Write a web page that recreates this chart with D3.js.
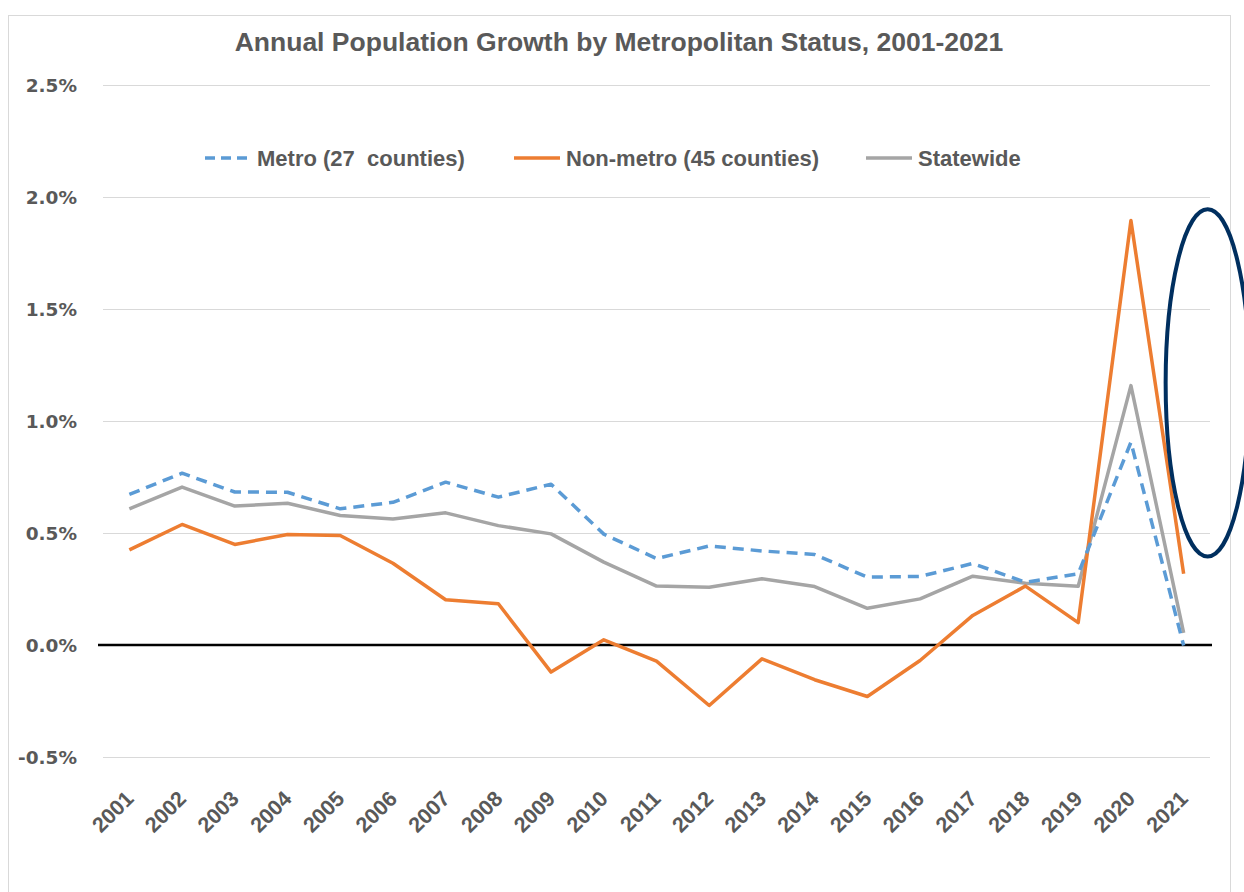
<!DOCTYPE html>
<html>
<head>
<meta charset="utf-8">
<script src="https://cdn.jsdelivr.net/npm/d3@7"></script>
<style>
  body { margin: 0; background: #fff; }
  svg { display: block; }
</style>
</head>
<body>
<svg id="chart"></svg>
<script>
// values, in percent
const years = ["2001","2002","2003","2004","2005","2006","2007","2008","2009","2010","2011",
               "2012","2013","2014","2015","2016","2017","2018","2019","2020","2021"];
const metro = [0.672, 0.767, 0.683, 0.682, 0.608, 0.637, 0.727, 0.660, 0.718, 0.495, 0.386,
               0.442, 0.420, 0.404, 0.303, 0.306, 0.364, 0.280, 0.318, 0.905, -0.002];
const nonMetro = [0.425, 0.538, 0.449, 0.493, 0.489, 0.365, 0.202, 0.184, -0.121, 0.023, -0.072,
                  -0.270, -0.062, -0.155, -0.230, -0.069, 0.132, 0.263, 0.100, 1.895, 0.318];
const statewide = [0.608, 0.705, 0.620, 0.633, 0.578, 0.563, 0.590, 0.533, 0.496, 0.370, 0.263,
                   0.258, 0.296, 0.261, 0.164, 0.206, 0.307, 0.276, 0.262, 1.158, 0.054];
const yTicks = [-0.5, 0, 0.5, 1.0, 1.5, 2.0, 2.5];
const seriesNames = ["Metro (27  counties)", "Non-metro (45 counties)", "Statewide"];

const width = 1244;
const height = 892;
const plot = { left: 103, right: 1210, top: 85, bottom: 757 };
const textColor = "#595959";

const svg = d3.select("#chart").attr("width", width).attr("height", height);

// chart frame
svg.append("rect")
    .attr("x", 8.5).attr("y", 15.5)
    .attr("width", 1222).attr("height", 900)
    .attr("fill", "#fff")
    .attr("stroke", "#d9d9d9");

const x = d3.scalePoint()
    .domain(years)
    .range([plot.left, plot.right])
    .padding(0.5);

const y = d3.scaleLinear()
    .domain([-0.5, 2.5])
    .range([plot.bottom, plot.top]);

// y axis + gridlines
svg.append("g")
    .attr("transform", `translate(${plot.left}, 0)`)
    .call(d3.axisLeft(y)
        .tickValues(yTicks)
        .tickSize(-(plot.right - plot.left))
        .tickPadding(26)
        .tickFormat(d => d3.format(".1f")(d).replace("\u2212", "-") + "%"))
    .call(g => g.select(".domain").remove())
    .call(g => g.selectAll(".tick line").attr("stroke", "#d9d9d9"))
    .call(g => g.selectAll(".tick text")
        .attr("fill", textColor)
        .attr("dy", "0.36em")
        .style("font-family", "'DejaVu Sans', Verdana, sans-serif")
        .style("font-weight", "bold")
        .style("font-size", "18.5px"));

// zero line
svg.append("line")
    .attr("x1", plot.left - 5).attr("x2", plot.right + 2)
    .attr("y1", y(0)).attr("y2", y(0))
    .attr("stroke", "#000")
    .attr("stroke-width", 2.5);

// x axis labels
svg.append("g")
    .attr("transform", `translate(0, 800)`)
    .call(d3.axisBottom(x).tickSize(0).tickPadding(0))
    .call(g => g.select(".domain").remove())
    .call(g => g.selectAll(".tick text")
        .attr("y", 0).attr("dy", 0)
        .attr("transform", "translate(5,0) rotate(-45)")
        .style("text-anchor", "end")
        .attr("fill", textColor)
        .style("font-family", "'Liberation Sans', Arial, sans-serif")
        .style("font-weight", "bold")
        .style("font-size", "21.5px"));

const line = d3.line()
    .x((d, i) => x(years[i]))
    .y(d => y(d));

const series = [
    { name: seriesNames[0], values: metro, color: "#5b9bd5", dash: "11,7" },
    { name: seriesNames[1], values: nonMetro, color: "#ed7d31", dash: null },
    { name: seriesNames[2], values: statewide, color: "#a5a5a5", dash: null }
];

// draw statewide first, then non-metro, metro on top
svg.append("g")
    .selectAll("path")
    .data([series[2], series[1], series[0]])
    .enter()
    .append("path")
    .attr("d", d => line(d.values))
    .attr("fill", "none")
    .attr("stroke", d => d.color)
    .attr("stroke-width", 3.5)
    .attr("stroke-dasharray", d => d.dash)
    .attr("stroke-linejoin", "round");

// legend
const legendX = [205, 514, 866];
const legend = svg.append("g")
    .selectAll(".legend")
    .data(series)
    .enter()
    .append("g")
    .attr("class", "legend")
    .attr("transform", (d, i) => `translate(${legendX[i]}, 158)`);

legend.append("line")
    .attr("x1", 0).attr("x2", 46)
    .attr("y1", 0).attr("y2", 0)
    .attr("stroke", d => d.color)
    .attr("stroke-width", 3.5)
    .attr("stroke-dasharray", d => d.dash ? "10,6" : null);

legend.append("text")
    .attr("x", 52)
    .attr("y", 0)
    .attr("dy", "0.36em")
    .attr("fill", textColor)
    .style("font-family", "'Liberation Sans', Arial, sans-serif")
    .style("font-weight", "bold")
    .style("font-size", "22px")
    .style("white-space", "pre")
    .text(d => d.name);

// title
svg.append("text")
    .attr("x", 619)
    .attr("y", 51)
    .attr("text-anchor", "middle")
    .attr("fill", textColor)
    .style("font-family", "'Liberation Sans', Arial, sans-serif")
    .style("font-weight", "bold")
    .style("font-size", "26.5px")
    .text("Annual Population Growth by Metropolitan Status, 2001-2021");

// highlight ellipse around the 2021 values
svg.append("ellipse")
    .attr("cx", x("2021") + 24)
    .attr("cy", y(1.17))
    .attr("rx", 42)
    .attr("ry", (y(0.4) - y(1.95)) / 2)
    .attr("fill", "none")
    .attr("stroke", "#002f5f")
    .attr("stroke-width", 4);
</script>
</body>
</html>
